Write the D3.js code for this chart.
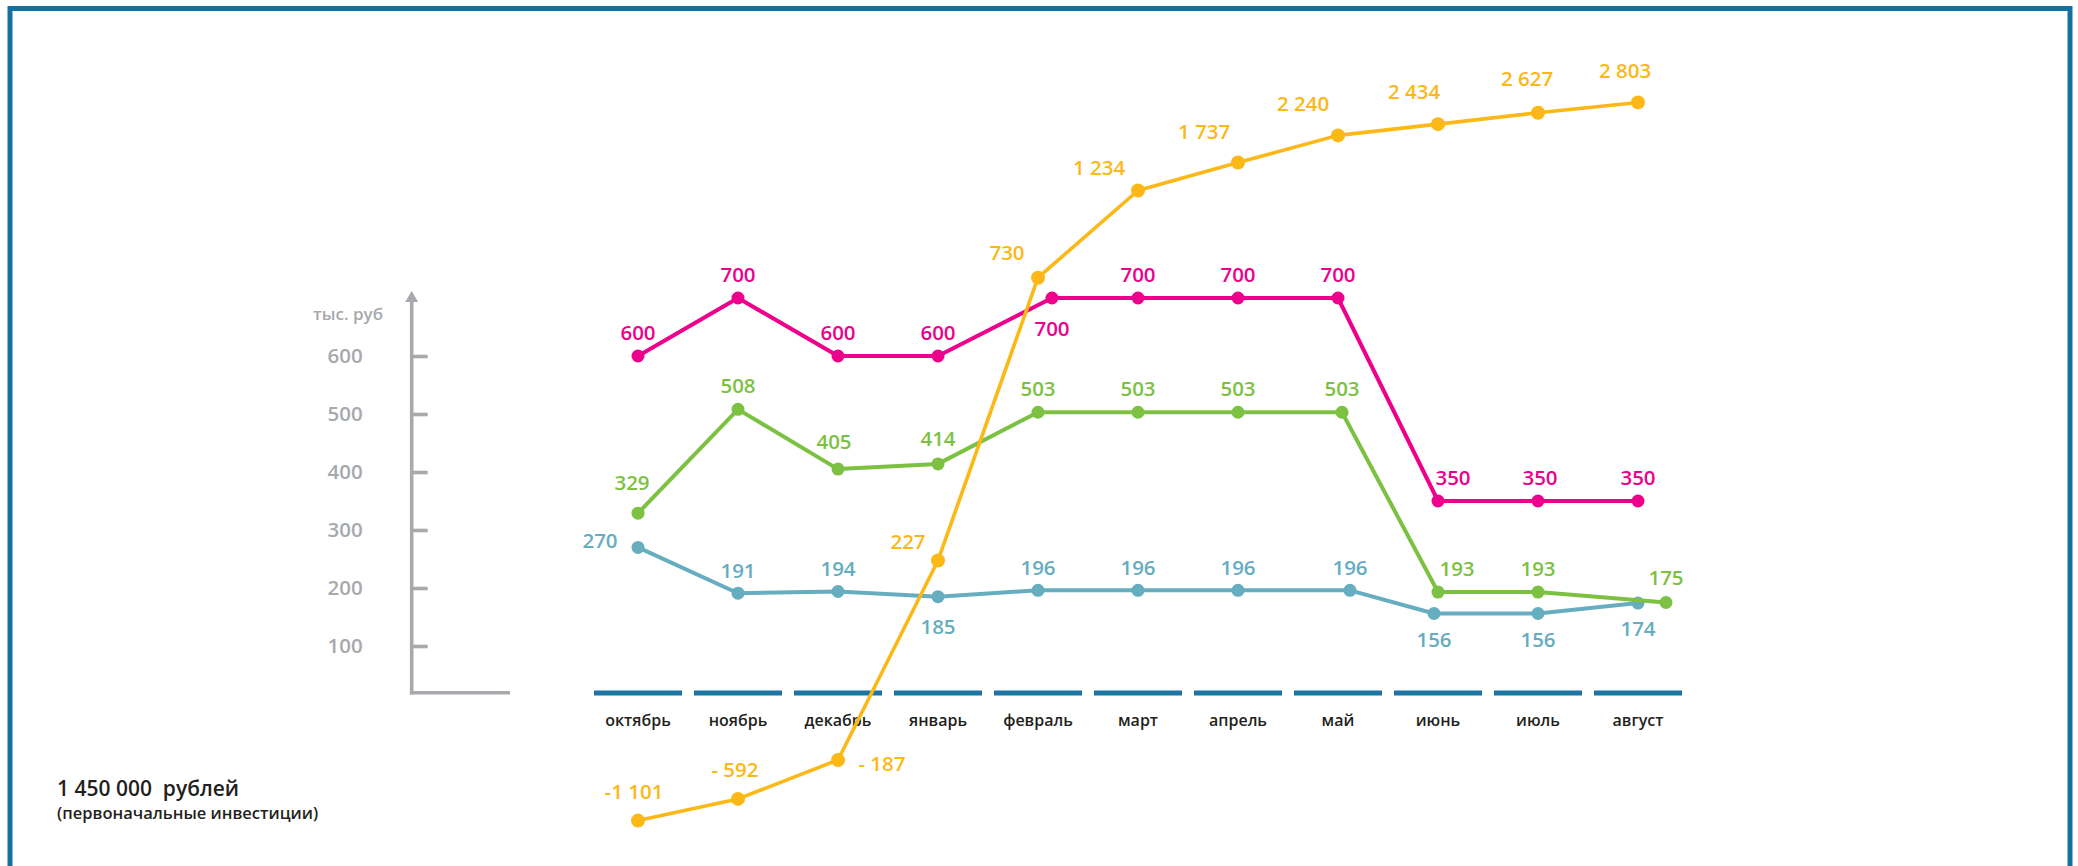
<!DOCTYPE html>
<html>
<head>
<meta charset="utf-8">
<script src="https://cdn.jsdelivr.net/npm/d3@7"></script>
<style>
  html, body { margin: 0; padding: 0; background: #ffffff; }
  svg { display: block; }
  text { font-family: "Open Sans", "Noto Sans", sans-serif; font-weight: 600; }
</style>
</head>
<body>
<svg id="chart" width="2078" height="866"></svg>
<script>
// ---------------- data ----------------
const months = ["октябрь","ноябрь","декабрь","январь","февраль","март","апрель","май","июнь","июль","август"];
const pinkValues   = [600, 700, 600, 600, 700, 700, 700, 700, 350, 350, 350];
const greenValues  = [329, 508, 405, 414, 503, 503, 503, 503, 193, 193, 175];
const blueValues   = [270, 191, 194, 185, 196, 196, 196, 196, 156, 156, 174];
const orangeValues = [-1101, -592, -187, 227, 730, 1234, 1737, 2240, 2434, 2627, 2803];
const yTicks = [100, 200, 300, 400, 500, 600];
const yUnit = "тыс. руб";
const investTitle = "1 450 000  рублей";
const investSub = "(первоначальные инвестиции)";

// ---------------- layout ----------------
const colors = { pink: "#ec008c", green: "#7dc142", blue: "#66adbf", orange: "#fbb817",
                 axis: "#a7a9ac", frame: "#14719f", month: "#1a75a0", text: "#231f20" };

// small horizontal nudges of individual markers (placement only, px)
const pinkNudge   = [0,0,0,0,14,0,0,0,0,0,0];
const greenNudge  = [0,0,0,0,0,0,0,4,0,0,28];
const blueNudge   = [0,0,0,0,0,0,0,12,-4,0,0];
const orangeNudge = [0,0,0,0,0,0,0,0,0,0,0];
// label offsets [dx, dy] relative to each marker (placement only, px)
const pinkLabelOffsets   = [[0,-24],[0,-24],[0,-24],[0,-24],[0,30],[0,-24],[0,-24],[0,-24],[15,-24],[2,-24],[0,-24]];
const greenLabelOffsets  = [[-6,-31],[0,-24],[-4,-28],[0,-26],[0,-24],[0,-24],[0,-24],[0,-24],[19,-24],[0,-24],[0,-26]];
const blueLabelOffsets   = [[-38,-7],[0,-23],[0,-23],[0,29],[0,-23],[0,-23],[0,-23],[0,-23],[0,25],[0,25],[0,25]];
const orangeLabelOffsets = [[-4,-30],[-3,-30],[44,3],[-30,-19],[-31,-26],[-39,-24],[-34,-32],[-35,-32],[-24,-33],[-11,-35],[-13,-32]];

const svg = d3.select("#chart");

// frame
svg.append("rect")
  .attr("x", 10).attr("y", 8.5).attr("width", 2060).attr("height", 900)
  .attr("fill", "none").attr("stroke", colors.frame).attr("stroke-width", 5);

// scales
const x = d3.scalePoint().domain(months).range([638, 1638]);
const y = d3.scaleLinear().domain([100, 600]).range([646, 356]);
// non-uniform vertical scale used by the infographic for the cumulative (orange) series
const yOrange = d3.scaleLinear()
  .domain([-1000, -500, -250, 0, 250, 500, 750, 1000, 1250, 1500, 2000, 2500, 3000])
  .range([816.3, 795, 790, 670.7, 549.3, 407.8, 266.4, 230, 187.8, 174.4, 149.3, 120.3, 90.8]);

// ---------------- y axis ----------------
const axisX = 411.7;
const yAxis = d3.axisLeft(y).tickValues(yTicks).tickSizeInner(-16).tickSizeOuter(0).tickPadding(49);
const gy = svg.append("g").attr("transform", `translate(${axisX},0)`).call(yAxis);
gy.select(".domain").remove();
gy.selectAll(".tick line").attr("stroke", colors.axis).attr("stroke-width", 3.6);
gy.selectAll(".tick text")
  .attr("fill", colors.axis).attr("font-size", 20.5).attr("font-weight", 600)
  .style("font-family", '"Open Sans", sans-serif');

// axis line with arrow + baseline
svg.append("line").attr("x1", axisX).attr("x2", axisX).attr("y1", 300).attr("y2", 694.5)
  .attr("stroke", colors.axis).attr("stroke-width", 3.6);
svg.append("path")
  .attr("d", `M${axisX - 6.5},${302} L${axisX},${291} L${axisX + 6.5},${302} Z`)
  .attr("fill", colors.axis);
svg.append("line").attr("x1", axisX - 1.8).attr("x2", 510).attr("y1", 692.7).attr("y2", 692.7)
  .attr("stroke", colors.axis).attr("stroke-width", 3.6);
svg.append("text").attr("x", 383).attr("y", 313).attr("text-anchor", "end")
  .attr("dominant-baseline", "central").attr("font-size", 17).attr("fill", colors.axis).text(yUnit);

// ---------------- month bars + labels ----------------
const gm = svg.append("g");
gm.selectAll("line").data(months).join("line")
  .attr("x1", d => x(d) - 44).attr("x2", d => x(d) + 44)
  .attr("y1", 693).attr("y2", 693)
  .attr("stroke", colors.month).attr("stroke-width", 5);
gm.selectAll("text").data(months).join("text")
  .attr("x", d => x(d)).attr("y", 720)
  .attr("text-anchor", "middle").attr("dominant-baseline", "central")
  .attr("font-size", 16).attr("fill", colors.text).text(d => d);

// ---------------- series ----------------
const fmtThousands = d3.formatLocale({ decimal: ",", thousands: " ", grouping: [3], currency: ["", ""], minus: "-" }).format(",d");
function fmtValue(v) {
  if (v < 0 && v > -1000) return "- " + fmtThousands(-v);
  return fmtThousands(v);
}

function drawSeries(values, yScale, color, nudge, offsets, lineWidth, r) {
  const pts = values.map((v, i) => ({ m: months[i], v, i }));
  const px = d => x(d.m) + nudge[d.i];
  const g = svg.append("g");
  const line = d3.line().x(px).y(d => yScale(d.v));
  g.append("path").datum(pts).attr("d", line)
    .attr("fill", "none").attr("stroke", color).attr("stroke-width", lineWidth)
    .attr("stroke-linejoin", "round");
  g.selectAll("circle").data(pts).join("circle")
    .attr("cx", px).attr("cy", d => yScale(d.v)).attr("r", r).attr("fill", color);
  g.selectAll("text").data(pts).join("text")
    .attr("x", d => px(d) + offsets[d.i][0])
    .attr("y", d => yScale(d.v) + offsets[d.i][1])
    .attr("text-anchor", "middle").attr("dominant-baseline", "central")
    .attr("font-size", 20.5).attr("fill", color)
    .text(d => fmtValue(d.v));
}

drawSeries(blueValues, y, colors.blue, blueNudge, blueLabelOffsets, 4, 6.5);
drawSeries(greenValues, y, colors.green, greenNudge, greenLabelOffsets, 4, 6.5);
drawSeries(pinkValues, y, colors.pink, pinkNudge, pinkLabelOffsets, 4, 6.5);
drawSeries(orangeValues, yOrange, colors.orange, orangeNudge, orangeLabelOffsets, 3.6, 7);

// ---------------- investment note ----------------
svg.append("text").attr("x", 57).attr("y", 788).attr("dominant-baseline", "central")
  .attr("font-size", 21).attr("font-weight", 700).attr("fill", colors.text)
  .style("white-space", "pre").text(investTitle);
svg.append("text").attr("x", 57).attr("y", 812).attr("dominant-baseline", "central")
  .attr("font-size", 16.5).attr("font-weight", 700).attr("fill", colors.text).text(investSub);
</script>
</body>
</html>
